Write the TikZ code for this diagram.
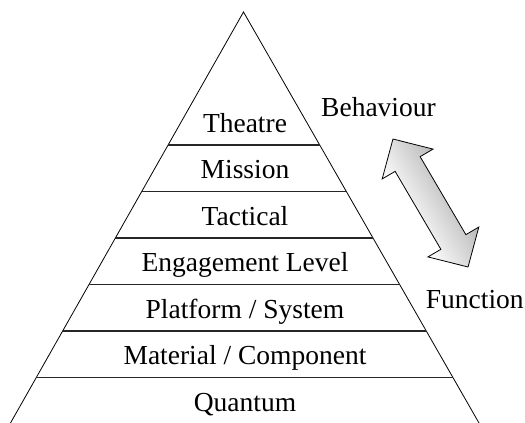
\documentclass[tikz,border=0pt]{standalone}
\usepackage{fontspec}
\setmainfont{Liberation Serif}
\usetikzlibrary{calc}

\begin{document}
\begin{tikzpicture}[x=1pt,y=-1pt,
  level/.style={font=\fontsize{27.5}{33}\selectfont, anchor=base, inner sep=0pt},
  divider/.style={line width=1.1pt, black!85},
  side/.style={line width=0.8pt}]

  \useasboundingbox (0,0) rectangle (525,423);

  \coordinate (apex) at (243.5,12);
  \coordinate (bl) at (10.5,423);
  \coordinate (br) at (479,423);
  \draw[side] (bl) -- (apex) -- (br);

  \foreach \y in {145,191.5,238,284.5,331,377.5}
    \draw[divider] ($(apex)!{(\y-12)/411}!(bl)$) -- ($(apex)!{(\y-12)/411}!(br)$);

  \node[level] (theatre) at (245,132) {Theatre};
  \node[level] (mission) at (245,178.5) {Mission};
  \node[level] (tactical) at (245,225) {Tactical};
  \node[level] (engage) at (245,271.5) {Engagement Level};
  \node[level] (platform) at (245,318) {Platform / System};
  \node[level] (material) at (245,364.5) {Material / Component};
  \node[level] (quantum) at (245,411) {Quantum};

  \node[level] (behaviour) at (378.5,116) {Behaviour};
  \node[level] (function) at (474.8,308) {Function};

  \coordinate (arrC) at (430.5,203);
  \begin{scope}[transform canvas={shift={(arrC)},rotate=-59.6}]
    \shade[draw, line width=0.8pt, top color=gray!55, bottom color=white]
      (-74.2,0) -- (-45.2,-29.5) -- (-45.2,-14.5) -- (45.2,-14.5) -- (45.2,-29.5) -- (74.2,0)
      -- (45.2,29.5) -- (45.2,14.5) -- (-45.2,14.5) -- (-45.2,29.5) -- cycle;
  \end{scope}

\end{tikzpicture}
\end{document}
